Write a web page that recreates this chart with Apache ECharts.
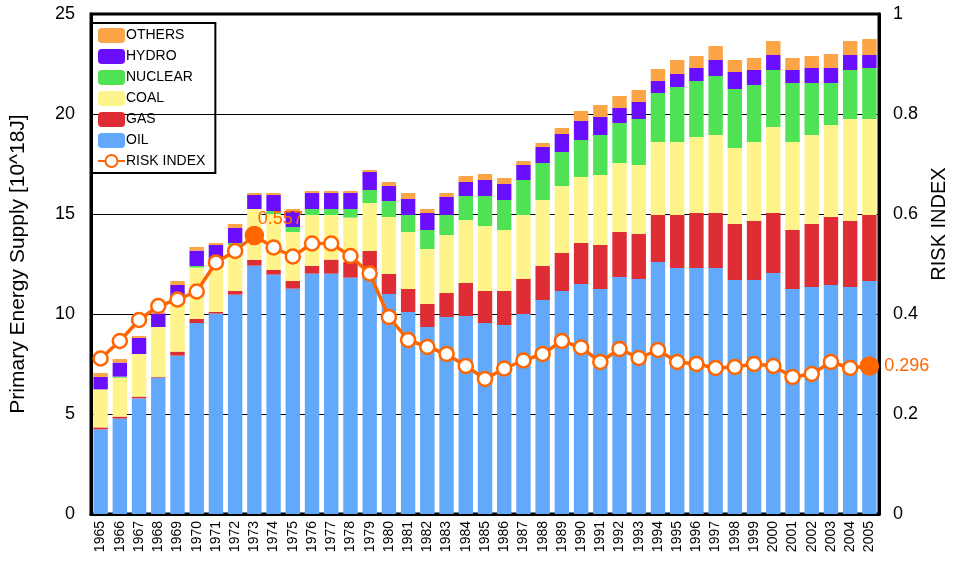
<!DOCTYPE html>
<html>
<head>
<meta charset="utf-8">
<script src="https://cdn.jsdelivr.net/npm/echarts@6/dist/echarts.min.js"></script>
<style>
  html, body { margin: 0; padding: 0; background: #fff; }
  #chart { width: 957px; height: 574px; }
</style>
</head>
<body>
<div id="chart"></div>
<script>
// 年份
const years = ['1965','1966','1967','1968','1969','1970','1971','1972','1973','1974',
  '1975','1976','1977','1978','1979','1980','1981','1982','1983','1984',
  '1985','1986','1987','1988','1989','1990','1991','1992','1993','1994',
  '1995','1996','1997','1998','1999','2000','2001','2002','2003','2004','2005']

// 一次能源供给 [10^18J]
const oil = [4.23, 4.77, 5.78, 6.82, 7.92, 9.55, 10.02, 10.97, 12.42, 11.97,
  11.27, 12.02, 12.02, 11.82, 12.1, 11.0, 10.1, 9.35, 9.85, 9.9,
  9.55, 9.45, 10.0, 10.7, 11.15, 11.5, 11.25, 11.85, 11.75, 12.6,
  12.3, 12.3, 12.3, 11.7, 11.7, 12.05, 11.25, 11.35, 11.45, 11.35, 11.65]
const gas = [0.10, 0.10, 0.09, 0.03, 0.20, 0.20, 0.08, 0.18, 0.28, 0.23,
  0.38, 0.38, 0.70, 0.78, 1.05, 1.00, 1.15, 1.15, 1.20, 1.65,
  1.60, 1.70, 1.75, 1.70, 1.90, 2.05, 2.20, 2.25, 2.25, 2.35,
  2.65, 2.75, 2.75, 2.80, 2.95, 3.00, 2.95, 3.15, 3.40, 3.30, 3.30]
const coal = [1.90, 1.95, 2.13, 2.50, 2.43, 2.57, 2.52, 2.30, 2.55, 2.80,
  2.45, 2.55, 2.23, 2.22, 2.40, 2.85, 2.85, 2.75, 2.90, 3.15,
  3.25, 3.05, 3.20, 3.30, 3.35, 3.30, 3.50, 3.45, 3.45, 3.65,
  3.65, 3.80, 3.90, 3.80, 3.95, 4.30, 4.40, 4.45, 4.60, 5.10, 4.80]
const nuclear = [0.00, 0.05, 0.00, 0.00, 0.00, 0.08, 0.08, 0.10, 0.00, 0.15,
  0.25, 0.30, 0.30, 0.43, 0.65, 0.80, 0.85, 0.95, 1.00, 1.20,
  1.50, 1.50, 1.75, 1.85, 1.70, 1.85, 2.00, 2.00, 2.30, 2.45,
  2.75, 2.80, 2.95, 2.95, 2.85, 2.85, 2.95, 2.60, 2.10, 2.45, 2.55]
const hydro = [0.62, 0.70, 0.80, 0.68, 0.90, 0.77, 0.75, 0.75, 0.70, 0.80,
  0.80, 0.80, 0.80, 0.80, 0.90, 0.75, 0.80, 0.85, 0.90, 0.70,
  0.80, 0.80, 0.75, 0.80, 0.90, 0.95, 0.90, 0.75, 0.85, 0.60,
  0.65, 0.65, 0.80, 0.85, 0.75, 0.75, 0.65, 0.75, 0.75, 0.75, 0.65]
const others = [0.20, 0.18, 0.10, 0.05, 0.20, 0.18, 0.10, 0.20, 0.10, 0.10,
  0.10, 0.10, 0.10, 0.10, 0.10, 0.20, 0.30, 0.20, 0.20, 0.30,
  0.30, 0.30, 0.20, 0.20, 0.30, 0.50, 0.60, 0.60, 0.60, 0.60,
  0.70, 0.60, 0.70, 0.60, 0.60, 0.70, 0.60, 0.60, 0.70, 0.70, 0.80]

// 风险指数
const risk = [0.311, 0.346, 0.388, 0.416, 0.429, 0.445, 0.503, 0.526, 0.557, 0.533,
  0.515, 0.541, 0.541, 0.516, 0.481, 0.394, 0.348, 0.334, 0.320, 0.296,
  0.270, 0.291, 0.307, 0.320, 0.346, 0.333, 0.304, 0.330, 0.312, 0.328,
  0.304, 0.300, 0.292, 0.294, 0.300, 0.296, 0.274, 0.280, 0.304, 0.292, 0.296]

const leftTicks = { min: 0, max: 25, interval: 5 }
const rightTicks = { min: 0, max: 1, interval: 0.2 }

const colors = {
  OIL: '#63a9fb',
  GAS: '#de2d34',
  COAL: '#fff48c',
  NUCLEAR: '#4fe255',
  HYDRO: '#6a0eff',
  OTHERS: '#fba547',
  RISK: '#ff6600'
}

const chart = echarts.init(document.getElementById('chart'))

function barSeries(name, data) {
  return {
    name,
    type: 'bar',
    stack: 'supply',
    data,
    barCategoryGap: '25%',
    itemStyle: { color: colors[name] }
  }
}

// 标注的两个点（1973、2005）实心显示
const highlight = { 8: 'top', 40: 'right' }
const riskData = risk.map((v, i) => {
  if (highlight[i] === undefined) return v
  return {
    value: v,
    symbolSize: 17,
    itemStyle: { color: colors.RISK, borderColor: colors.RISK },
    label: {
      show: true,
      position: highlight[i],
      offset: highlight[i] === 'top' ? [26, 7] : [0, 0],
      color: colors.RISK,
      fontSize: 18,
      fontFamily: 'Liberation Sans Narrow, Liberation Sans, sans-serif',
      formatter: (p) => p.value.toFixed(3)
    }
  }
})

const option = {
  animation: false,
  textStyle: { fontFamily: 'Liberation Sans, Arial, sans-serif', color: '#000' },
  grid: {
    left: 83, right: 75, top: 14, bottom: 60,
    show: true, borderColor: '#000', borderWidth: 3
  },
  legend: {
    orient: 'vertical',
    left: 91, top: 23,
    padding: [5, 10, 5, 6],
    borderColor: '#000', borderWidth: 2,
    itemWidth: 27, itemHeight: 15, itemGap: 6,
    textStyle: {
      fontSize: 14, color: '#000',
      fontFamily: 'Liberation Sans Narrow, Liberation Sans, sans-serif',
      padding: [0, 0, 0, -4]
    },
    data: ['OTHERS', 'HYDRO', 'NUCLEAR', 'COAL', 'GAS', 'OIL', 'RISK INDEX']
  },
  xAxis: {
    type: 'category',
    data: years,
    axisLine: { lineStyle: { color: '#000', width: 3 } },
    axisTick: { show: false },
    axisLabel: { interval: 0, rotate: 90, fontSize: 14, color: '#000', margin: 7 }
  },
  yAxis: [
    {
      type: 'value',
      ...leftTicks,
      name: 'Primary Energy Supply [10^18J]',
      nameLocation: 'middle',
      nameGap: 62,
      nameRotate: 90,
      nameTextStyle: { fontSize: 21, color: '#000' },
      axisLine: { show: true, lineStyle: { color: '#000', width: 3 } },
      axisTick: { show: false },
      axisLabel: { fontSize: 18, color: '#000', margin: 16 },
      splitLine: { lineStyle: { color: '#000', width: 1 } }
    },
    {
      type: 'value',
      ...rightTicks,
      position: 'right',
      name: 'RISK INDEX',
      nameLocation: 'middle',
      nameGap: 50,
      nameRotate: 90,
      nameTextStyle: {
        fontSize: 20, color: '#000',
        fontFamily: 'Liberation Sans Narrow, Liberation Sans, sans-serif',
        padding: [0, 0, 0, 80]
      },
      axisLine: { show: true, lineStyle: { color: '#000', width: 3 } },
      axisTick: { show: true, inside: true, length: 6, lineStyle: { color: '#000' } },
      axisLabel: { fontSize: 18, color: '#000', margin: 14 },
      splitLine: { show: false }
    }
  ],
  series: [
    barSeries('OIL', oil),
    barSeries('GAS', gas),
    barSeries('COAL', coal),
    barSeries('NUCLEAR', nuclear),
    barSeries('HYDRO', hydro),
    barSeries('OTHERS', others),
    {
      name: 'RISK INDEX',
      type: 'line',
      yAxisIndex: 1,
      data: riskData,
      symbol: 'circle',
      symbolSize: 14,
      lineStyle: { color: colors.RISK, width: 3.5 },
      itemStyle: { color: '#fff', borderColor: colors.RISK, borderWidth: 2.5 },
      z: 5
    }
  ]
}

chart.setOption(option)
</script>
</body>
</html>
